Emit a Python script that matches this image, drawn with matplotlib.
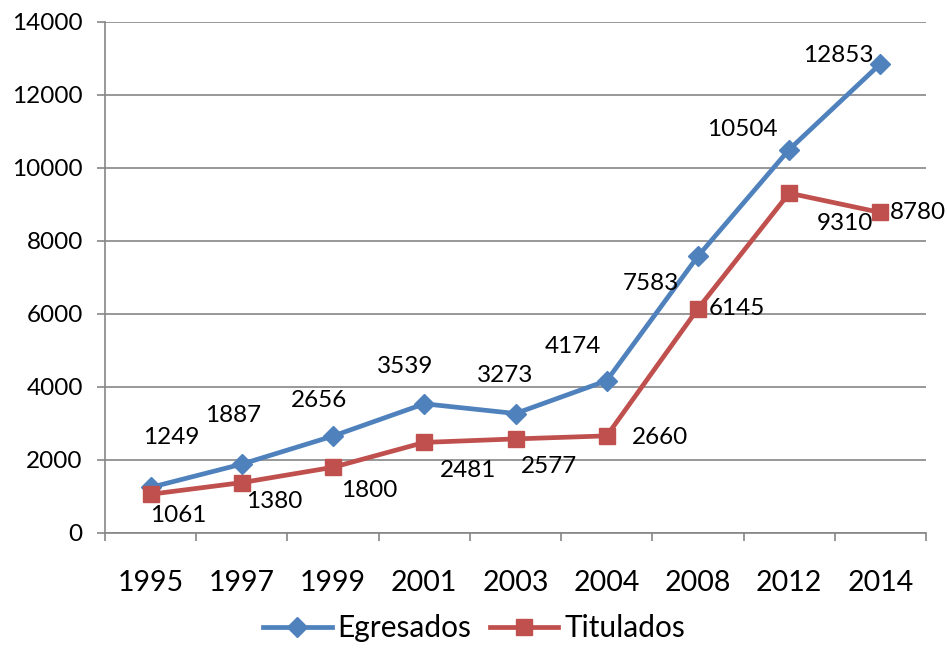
import matplotlib.pyplot as plt

plt.rcParams['font.family'] = ['Lato', 'DejaVu Sans']

# data
years = ['1995', '1997', '1999', '2001', '2003', '2004', '2008', '2012', '2014']
egresados = [1249, 1887, 2656, 3539, 3273, 4174, 7583, 10504, 12853]
titulados = [1061, 1380, 1800, 2481, 2577, 2660, 6145, 9310, 8780]

# label offsets in pixels (dx, dy), dy positive = up
off_egr = [(21, 50), (-9, 49), (-14, 36), (-19, 37), (-10, 38), (-34, 34), (-47, -27), (-47, 20), (-42, 8)]
off_tit = [(28, -21), (32, -19), (36, -23), (44, -28), (33, -28), (53, -2), (39, 0), (56, -30), (38, 0)]

blue = '#4F81BD'
red = '#C0504D'
gray = '#868686'

fig = plt.figure(figsize=(9.48, 6.51), dpi=100)
ax = fig.add_axes([0.1108, 0.1813, 0.866, 0.785])

x = list(range(len(years)))
ax.plot(x, egresados, color=blue, lw=3.4, marker='D', ms=10.5, label='Egresados', zorder=3)
ax.plot(x, titulados, color=red, lw=3.4, marker='s', ms=12, label='Titulados', zorder=3)

for i, v in enumerate(egresados):
    ax.annotate(str(v), (i, v), xytext=off_egr[i], textcoords='offset pixels',
                ha='center', va='center', fontsize=17.5)
for i, v in enumerate(titulados):
    ax.annotate(str(v), (i, v), xytext=off_tit[i], textcoords='offset pixels',
                ha='center', va='center', fontsize=17.5)

ax.set_xlim(-0.5, len(years) - 0.5)
ax.set_ylim(0, 14000)
ax.set_yticks(range(0, 14001, 2000))
ax.set_xticks(x)
ax.set_xticklabels(years, fontsize=20.5)
ax.set_xticks([i - 0.5 for i in range(len(years) + 1)], minor=True)
ax.tick_params(axis='x', which='major', length=0, pad=27)
ax.tick_params(axis='x', which='minor', length=6, color=gray, width=1.2)
ax.tick_params(axis='y', labelsize=17.5, length=6, color=gray, width=1.2, pad=10)

ax.grid(axis='y', color=gray, lw=1.2)
ax.set_axisbelow(True)
for s in ['top', 'right']:
    ax.spines[s].set_visible(False)
for s in ['left', 'bottom']:
    ax.spines[s].set_color(gray)
    ax.spines[s].set_linewidth(1.2)

fig.legend(loc='lower center', bbox_to_anchor=(0.5, -0.028), ncol=2, frameon=False,
           fontsize=21.5, handlelength=2.3, columnspacing=0.6, handletextpad=0.2)

fig.savefig('out.png', dpi=100)
